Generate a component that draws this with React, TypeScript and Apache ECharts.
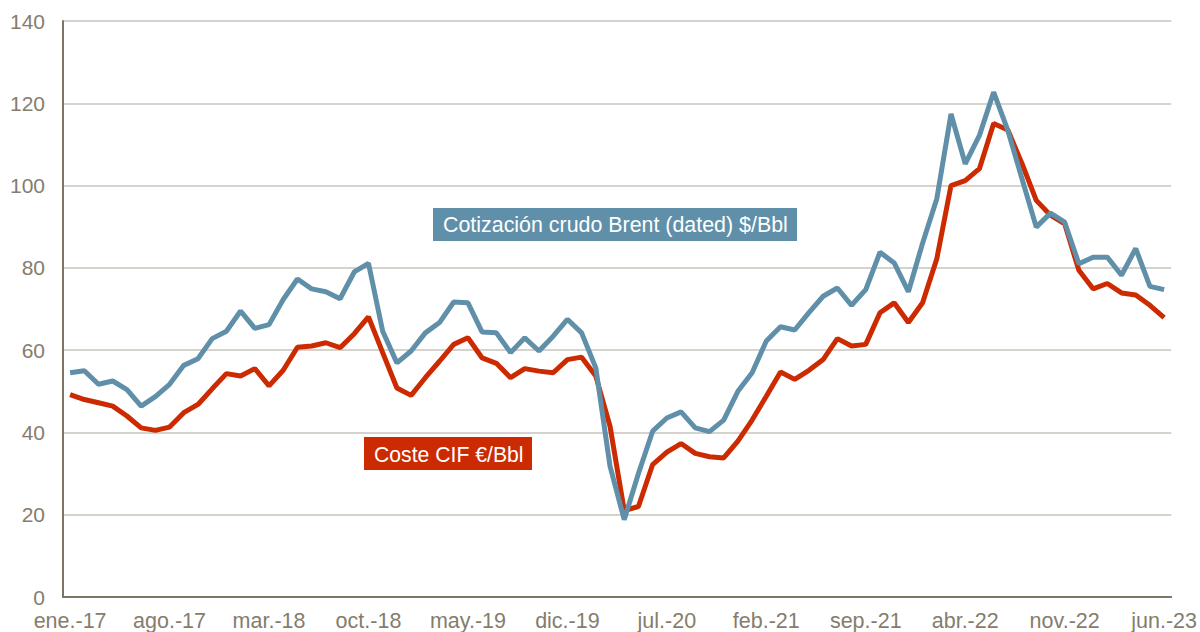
import React, { useEffect, useRef } from "react";
import * as echarts from "echarts";

const months = ["ene.", "feb.", "mar.", "abr.", "may.", "jun.", "jul.", "ago.", "sep.", "oct.", "nov.", "dic."];
const categories: string[] = [];
for (let y = 17; y <= 23; y++) {
  for (let m = 0; m < 12; m++) {
    if (y === 23 && m > 5) break;
    categories.push(`${months[m]}-${y}`);
  }
}

const brent = [
  54.5, 55.0, 51.7, 52.5, 50.4, 46.4, 48.7, 51.7, 56.3, 57.9, 62.8, 64.6,
  69.5, 65.3, 66.2, 72.3, 77.3, 74.9, 74.2, 72.5, 79.0, 81.1, 64.6, 56.9,
  59.8, 64.2, 66.7, 71.7, 71.5, 64.4, 64.2, 59.4, 63.0, 59.8, 63.4, 67.5,
  64.2, 55.7, 31.8, 18.8, 30.0, 40.3, 43.5, 45.0, 41.1, 40.2, 43.0, 50.0,
  54.5, 62.2, 65.7, 64.9, 69.1, 73.1, 75.1, 70.9, 74.7, 83.8, 81.2, 74.2,
  86.0, 96.8, 117.4, 105.3, 112.2, 122.7, 113.4, 101.6, 89.9, 93.3, 91.1, 81.0,
  82.6, 82.6, 78.2, 84.7, 75.5, 74.7,
];

const costeCif = [
  49.2, 48.0, 47.2, 46.4, 44.0, 41.1, 40.5, 41.3, 44.8, 46.8, 50.6, 54.3,
  53.7, 55.5, 51.3, 55.1, 60.7, 61.0, 61.8, 60.6, 64.0, 68.1, 59.4, 50.8,
  49.0, 53.3, 57.3, 61.4, 63.0, 58.1, 56.8, 53.3, 55.5, 54.9, 54.5, 57.7,
  58.3, 53.7, 41.5, 21.0, 22.0, 32.2, 35.2, 37.3, 34.9, 34.1, 33.8, 37.9,
  43.0, 48.8, 54.7, 52.9, 55.1, 57.7, 62.8, 61.0, 61.4, 69.1, 71.5, 66.7,
  71.5, 82.2, 100.0, 101.2, 104.1, 115.1, 113.5, 105.3, 96.4, 92.8, 90.7, 79.4,
  74.9, 76.2, 73.9, 73.4, 70.9, 67.9,
];

const blueLabel = "Cotización crudo Brent (dated) $/Bbl";
const redLabel = "Coste CIF €/Bbl";

const BLUE = "#5f8fa9";
const RED = "#cc2a00";
const AXIS = "#7e7664";
const LABEL = "#857d6c";
const GRID = "#c8c3bb";
const FONT = "'Liberation Sans', Arial, sans-serif";

export default function App() {
  const ref = useRef<HTMLDivElement>(null);
  useEffect(() => {
    document.body.style.margin = "0";
    if (!ref.current) return;
    const chart = echarts.init(ref.current, undefined, { renderer: "svg" });
    chart.setOption({
      animation: false,
      backgroundColor: "#ffffff",
      textStyle: { fontFamily: FONT },
      grid: { left: 63, right: 28, top: 21, bottom: 35, containLabel: false },
      xAxis: {
        type: "category",
        data: categories,
        boundaryGap: true,
        axisTick: { show: false },
        axisLine: { show: true, lineStyle: { color: AXIS, width: 2 } },
        axisLabel: { interval: 6, color: LABEL, fontSize: 21.5, margin: 13, fontFamily: FONT },
        splitLine: { show: false },
      },
      yAxis: {
        type: "value",
        min: 0,
        max: 140,
        interval: 20,
        axisTick: { show: false },
        axisLine: { show: true, lineStyle: { color: AXIS, width: 2 } },
        axisLabel: { color: LABEL, fontSize: 21, margin: 18, fontFamily: FONT },
        splitLine: { show: true, lineStyle: { color: GRID, width: 1.5 } },
      },
      series: [
        {
          name: redLabel,
          type: "line",
          data: costeCif,
          showSymbol: false,
          symbol: "none",
          lineStyle: { color: RED, width: 5 },
          itemStyle: { color: RED },
        },
        {
          name: blueLabel,
          type: "line",
          data: brent,
          showSymbol: false,
          symbol: "none",
          lineStyle: { color: BLUE, width: 5 },
          itemStyle: { color: BLUE },
        },
      ],
      graphic: [
        { type: "rect", x: 433, y: 208, shape: { x: 0, y: 0, width: 364, height: 33 }, style: { fill: BLUE }, z: 10 },
        {
          type: "text",
          x: 443,
          y: 225,
          style: { text: blueLabel, fill: "#ffffff", fontSize: 21.4, fontFamily: FONT, verticalAlign: "middle", textVerticalAlign: "middle" },
          z: 11,
        },
        { type: "rect", x: 364, y: 437, shape: { x: 0, y: 0, width: 168, height: 33 }, style: { fill: RED }, z: 10 },
        {
          type: "text",
          x: 374,
          y: 454,
          style: { text: redLabel, fill: "#ffffff", fontSize: 21.2, fontFamily: FONT, verticalAlign: "middle", textVerticalAlign: "middle" },
          z: 11,
        },
      ],
    });
    return () => chart.dispose();
  }, []);
  return <div ref={ref} style={{ width: 1200, height: 632 }} />;
}
